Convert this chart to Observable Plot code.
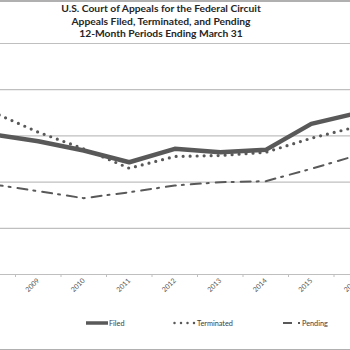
<!DOCTYPE html>
<html>
<head>
<meta charset="utf-8">
<script src="https://cdn.jsdelivr.net/npm/d3@7"></script>
<script src="https://cdn.jsdelivr.net/npm/@observablehq/plot@0.6"></script>
<style>
  body { margin: 0; background: #fff; }
  #wrap { position: relative; width: 350px; height: 350px; overflow: hidden; background: #fff; font-family: Lato, "Open Sans", sans-serif; }
  .hline { position: absolute; left: 0; width: 350px; height: 1.5px; background: #b0b0b0; }
  #title { position: absolute; left: 0; top: 2px; width: 322px; text-align: center; font-weight: bold; font-size: 10.3px; line-height: 12.6px; color: #262626; }
  #chart { position: absolute; left: 0; top: 38px; }
  .leg { position: absolute; top: 318px; font-size: 7.3px; color: #404040; display: flex; align-items: center; height: 10px; }
  .leg svg { display: block; margin-right: 1px; }
</style>
</head>
<body>
<div id="wrap">
  <div class="hline" style="top:0"></div>
  <div id="title">U.S. Court of Appeals for the Federal Circuit<br>Appeals Filed, Terminated, and Pending<br>12-Month Periods Ending March 31</div>
  <div id="chart"></div>
  <div class="leg" style="left:86px"><svg width="22" height="10"><line x1="0" x2="22" y1="5" y2="5" stroke="#595959" stroke-width="3.5"/></svg>Filed</div>
  <div class="leg" style="left:173px"><svg width="23" height="10"><line x1="1.5" x2="23" y1="5" y2="5" stroke="#595959" stroke-width="2.5" stroke-linecap="round" stroke-dasharray="0 6.5"/></svg>Terminated</div>
  <div class="leg" style="left:283px"><svg width="18" height="10"><line x1="0" x2="18" y1="5" y2="5" stroke="#595959" stroke-width="2" stroke-dasharray="9 6 2 10"/></svg>Pending</div>
  <div class="hline" style="top:348.5px"></div>
</div>
<script>
const years = [2008, 2009, 2010, 2011, 2012, 2013, 2014, 2015, 2016];
const filed = [1517, 1442, 1342, 1215, 1360, 1323, 1349, 1630, 1746];
const terminated = [1757, 1540, 1360, 1150, 1277, 1288, 1323, 1475, 1599];
const pending = [976, 901, 826, 890, 963, 999, 1010, 1144, 1289];
const yTicks = [0, 500, 1000, 1500, 2000, 2500];
const xLabels = [2009, 2010, 2011, 2012, 2013, 2014, 2015, 2016];
const xBoundaries = [2008.5, 2009.5, 2010.5, 2011.5, 2012.5, 2013.5, 2014.5, 2015.5];

const rows = (vals) => years.map((year, i) => ({year, value: vals[i]}));

const chart = Plot.plot({
  width: 350,
  height: 272,
  marginTop: 5,
  marginBottom: 36,
  marginLeft: 0,
  marginRight: 0,
  style: {background: "transparent", fontFamily: "Lato, 'Open Sans', sans-serif"},
  x: {type: "linear", domain: [2008.1703, 2015.8626], range: [0, 350], label: null},
  y: {domain: [0, 2500], axis: null},
  marks: [
    Plot.ruleY(yTicks, {stroke: "#bfbfbf", strokeWidth: 1.2}),
    Plot.axisX({ticks: xBoundaries, tickSize: 3, tickFormat: () => "", stroke: "#bfbfbf", label: null}),
    Plot.axisX({ticks: xLabels, tickSize: 0, tickPadding: 5, tickRotate: -45, tickFormat: d => String(d), fontSize: 7, fill: "#595959", label: null}),
    Plot.line(rows(pending), {x: "year", y: "value", stroke: "#595959", strokeWidth: 2, strokeDasharray: "10 6 2 7", clip: true}),
    Plot.line(rows(terminated), {x: "year", y: "value", stroke: "#595959", strokeWidth: 3.2, strokeLinecap: "round", strokeDasharray: "0 7", clip: true}),
    Plot.line(rows(filed), {x: "year", y: "value", stroke: "#595959", strokeWidth: 4.5, clip: true})
  ]
});
document.getElementById("chart").appendChild(chart);
</script>
</body>
</html>
